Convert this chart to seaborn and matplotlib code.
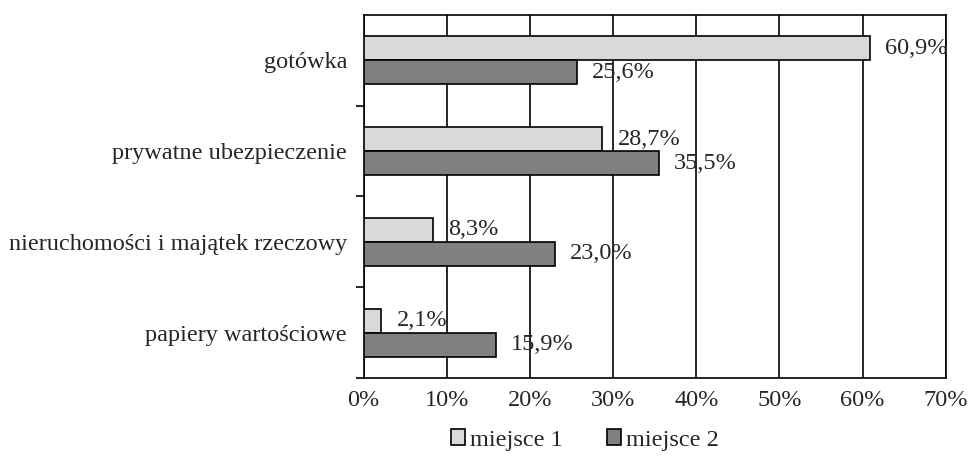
import numpy as np
import pandas as pd
import seaborn as sns
import matplotlib.pyplot as plt
from matplotlib.ticker import FixedLocator, PercentFormatter

categories = ['gotówka', 'prywatne ubezpieczenie',
              'nieruchomości i majątek rzeczowy', 'papiery wartościowe']
miejsce1 = [60.9, 28.7, 8.3, 2.1]
miejsce2 = [25.6, 35.5, 23.0, 15.9]
series = ['miejsce 1', 'miejsce 2']

df = pd.DataFrame({
    'kategoria': categories * 2,
    'wartosc': miejsce1 + miejsce2,
    'seria': [series[0]] * 4 + [series[1]] * 4,
})

sns.set_style('white')
plt.rcParams['font.family'] = ['Liberation Serif', 'DejaVu Serif']
fs = 17.5
plt.rcParams['font.size'] = fs

fig = plt.figure(figsize=(9.7, 4.63), dpi=100)
ax = fig.add_axes([0.375, 0.1836, 0.6, 0.784])

sns.barplot(data=df, y='kategoria', x='wartosc', hue='seria', orient='h',
            palette=['#d9d9d9', '#808080'], edgecolor='black', linewidth=1.2,
            width=0.53, ax=ax, zorder=3)

# etykiety wartości
for cont in ax.containers:
    ax.bar_label(cont, labels=[f'{v:.1f}%'.replace('.', ',') for v in cont.datavalues],
                 padding=11, fontsize=fs)

ax.set_xlim(0, 70)
ax.set_xticks(np.arange(0, 71, 10))
ax.xaxis.set_major_formatter(PercentFormatter(decimals=0))
ax.grid(axis='x', color='black', linewidth=1.2, zorder=0)
ax.grid(axis='y', visible=False)
for s in ax.spines.values():
    s.set_color('black')
    s.set_linewidth(1.2)

ax.set_xlabel('')
ax.set_ylabel('')
ax.tick_params(axis='x', length=0, pad=9, labelsize=fs)
ax.tick_params(axis='y', which='major', length=0, pad=12, labelsize=fs)
ax.yaxis.set_minor_locator(FixedLocator([0.5, 1.5, 2.5, 3.5]))
ax.tick_params(axis='y', which='minor', length=6, width=1.2, color='black', left=True)

ax.legend_.remove()
handles, labels = ax.get_legend_handles_labels()
fig.legend(handles, labels, loc='center', bbox_to_anchor=(585 / 970, 1 - 440 / 463),
           ncol=2, frameon=False, handlelength=0.6, handleheight=0.6,
           handletextpad=0.2, columnspacing=1.8, fontsize=fs)

fig.savefig('out.png', dpi=100)
